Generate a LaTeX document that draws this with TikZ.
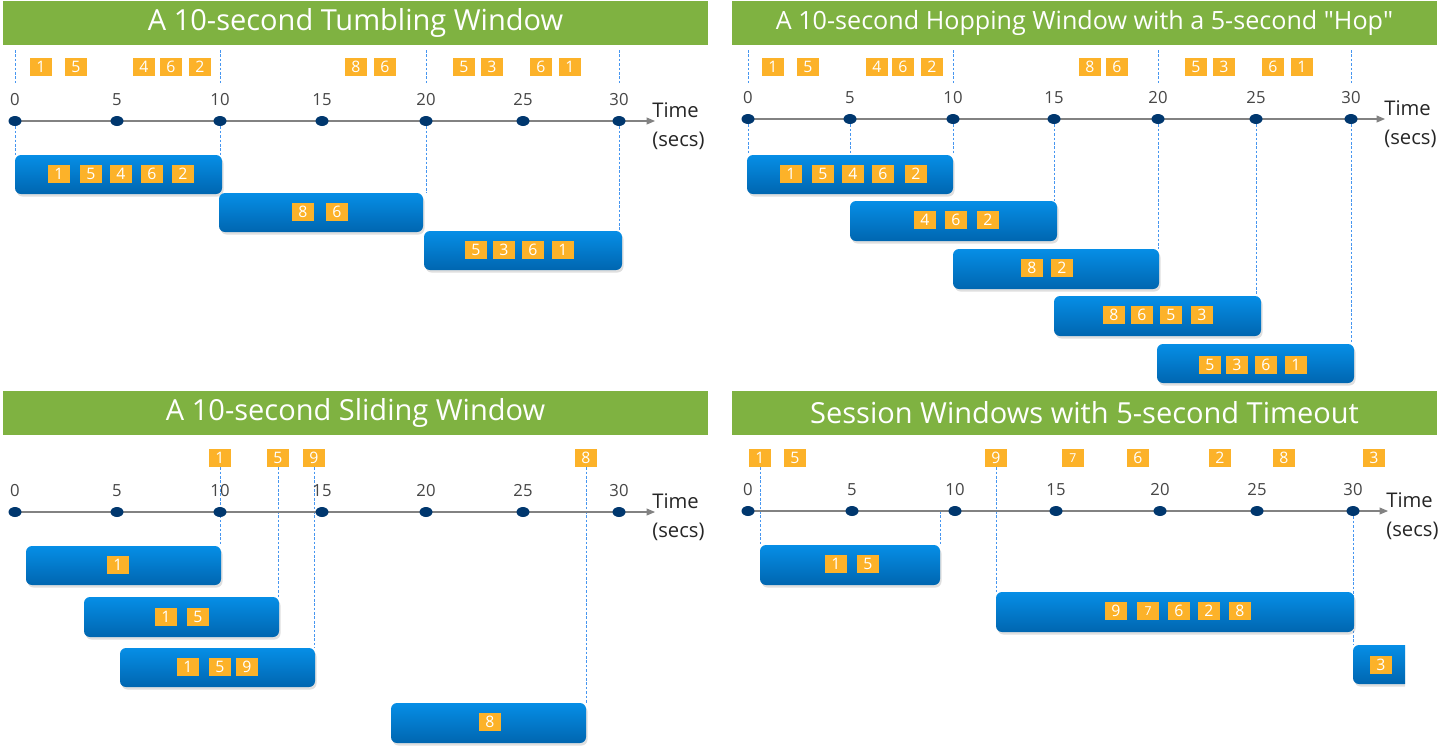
\documentclass[tikz,border=0pt]{standalone}
\usepackage{fontspec}
\setmainfont{Open Sans}
\usetikzlibrary{arrows.meta,shapes.geometric,fit,shadows,backgrounds}

\definecolor{bannergreen}{RGB}{127,178,65}
\definecolor{evorange}{RGB}{252,178,41}
\definecolor{wintop}{RGB}{6,142,230}
\definecolor{winbot}{RGB}{0,102,176}
\definecolor{dotnavy}{RGB}{0,55,110}
\definecolor{guideblue}{RGB}{70,150,240}
\definecolor{linegray}{RGB}{130,130,130}
\definecolor{labelgray}{RGB}{70,70,70}

\begin{document}
\begin{tikzpicture}[x=0.2mm,y=-0.2mm,
  banner/.style={fill=bannergreen,inner sep=0pt,text=white,minimum width=141mm,minimum height=8.8mm,
    font=\fontsize{16.5}{19}\selectfont},
  win/.style={rounded corners=1.2mm,top color=wintop,bottom color=winbot,inner sep=0pt,
    drop shadow={opacity=0.25,shadow xshift=0.3mm,shadow yshift=-0.5mm}},
  ev/.style={fill=evorange,text=white,inner sep=0pt,minimum width=4.5mm,minimum height=3.5mm,font=\fontsize{9}{10}\selectfont},
  evsmall/.style={ev,font=\fontsize{7}{8}\selectfont},
  tickdot/.style={ellipse,fill=dotnavy,inner sep=0pt,minimum width=2.6mm,minimum height=2mm},
  ticklbl/.style={text=labelgray,font=\fontsize{9.5}{11}\selectfont},
  timeline/.style={draw=linegray,line width=0.6pt,-{Triangle[length=1.7mm,width=1.4mm]}},
  guide/.style={draw=guideblue,dash pattern=on 1.5pt off 1pt,line width=0.4pt},
  timelbl/.style={anchor=west,align=left,text=black!85,inner sep=0pt,font=\fontsize{11.5}{16.5}\selectfont}]

\useasboundingbox (0,0) rectangle (1441,748);

% tumbling window
\node[banner] (tlhead) at (355.5,23) {A 10-second Tumbling Window};
\coordinate (tlstart) at (15,121);
\coordinate (tlend) at (655,121);
\draw[timeline] (tlstart) -- (tlend);
\foreach \t/\x in {0/15,5/117,10/220,15/322,20/426,25/523,30/619}{
  \node[tickdot] (tl\t) at (\x,121) {};
  \node[ticklbl] (tll\t) at (\x,100) {\t};
}
\node[timelbl] (tltime) at (652,126) {Time\\(secs)};
\foreach \x/\n [count=\i] in {41/1,76/5,144/4,171/6,200/2,356/8,385/6,464/5,492/3,541/6,570/1}
  \node[ev] (tle\i) at (\x,67) {\n};
\node[win,fit={(15,155) (222,194)}] (tlw1) {};
\node[win,fit={(219,193) (423,232)}] (tlw2) {};
\node[win,fit={(424,231) (622,270)}] (tlw3) {};
\foreach \x/\n [count=\i] in {59/1,91/5,121/4,152/6,183/2} \node[ev] (tla\i) at (\x,174) {\n};
\foreach \x/\n [count=\i] in {303/8,337/6} \node[ev] (tlb\i) at (\x,212) {\n};
\foreach \x/\n [count=\i] in {476/5,504/3,533/6,563/1} \node[ev] (tlc\i) at (\x,250) {\n};
\begin{scope}[on background layer]
  \foreach \t in {0,10,20,30} \draw[guide] (tl\t |- 0,50) -- (tl\t |- 0,85);
  \draw[guide] (tl0) -- (tl0 |- tlw1.north);
  \draw[guide] (tl10) -- (tl10 |- tlw1.north);
  \draw[guide] (tl20) -- (tl20 |- tlw2.north);
  \draw[guide] (tl30) -- (tl30 |- tlw3.north);
\end{scope}

% hopping window
\node[banner,font=\fontsize{14.3}{17}\selectfont] (trhead) at (1084.5,23) {A 10-second Hopping Window with a 5-second \textquotedbl Hop\textquotedbl};
\coordinate (trstart) at (748,119);
\coordinate (trend) at (1385,119);
\draw[timeline] (trstart) -- (trend);
\foreach \t/\x in {0/748,5/850,10/953,15/1054,20/1158,25/1256,30/1351}{
  \node[tickdot] (tr\t) at (\x,119) {};
  \node[ticklbl] (trl\t) at (\x,98) {\t};
}
\node[timelbl] (trtime) at (1384,124) {Time\\(secs)};
\foreach \x/\n [count=\i] in {773/1,808/5,877/4,903/6,932/2,1090/8,1117/6,1196/5,1224/3,1273/6,1302/1}
  \node[ev] (tre\i) at (\x,67) {\n};
\node[win,fit={(747,155) (953,194)}] (trw1) {};
\node[win,fit={(850,201) (1057,241)}] (trw2) {};
\node[win,fit={(953,249) (1159,289)}] (trw3) {};
\node[win,fit={(1054,296) (1261,336)}] (trw4) {};
\node[win,fit={(1157,344) (1354,383)}] (trw5) {};
\foreach \x/\n [count=\i] in {791/1,823/5,853/4,883/6,916/2} \node[ev] (tra\i) at (\x,174) {\n};
\foreach \x/\n [count=\i] in {925/4,956/6,988/2} \node[ev] (trb\i) at (\x,220) {\n};
\foreach \x/\n [count=\i] in {1032/8,1062/2} \node[ev] (trc\i) at (\x,268) {\n};
\foreach \x/\n [count=\i] in {1114/8,1142/6,1171/5,1202/3} \node[ev] (trd\i) at (\x,315) {\n};
\foreach \x/\n [count=\i] in {1210/5,1237/3,1266/6,1296/1} \node[ev] (trf\i) at (\x,365) {\n};
\begin{scope}[on background layer]
  \foreach \t in {0,10,20,30} \draw[guide] (tr\t |- 0,50) -- (tr\t |- 0,85);
  \foreach \t in {0,5,10} \draw[guide] (tr\t) -- (tr\t |- trw1.north);
  \draw[guide] (tr15) -- (tr15 |- trw2.north);
  \draw[guide] (tr20) -- (tr20 |- trw3.north);
  \draw[guide] (tr25) -- (tr25 |- trw4.north);
  \draw[guide] (tr30) -- (tr30 |- trw5.north);
\end{scope}

% sliding window
\node[banner] (blhead) at (355.5,413) {A 10-second Sliding Window};
\coordinate (blstart) at (15,512);
\coordinate (blend) at (655,512);
\draw[timeline] (blstart) -- (blend);
\foreach \t/\x in {0/15,5/117,10/220,15/322,20/426,25/523,30/619}{
  \node[tickdot] (bl\t) at (\x,512) {};
  \node[ticklbl] (bll\t) at (\x,491) {\t};
}
\node[timelbl] (bltime) at (652,517) {Time\\(secs)};
\foreach \x/\n [count=\i] in {220/1,278/5,314/9,586/8}
  \node[ev] (ble\i) at (\x,458) {\n};
\node[win,fit={(26,546) (221,585)}] (blw1) {};
\node[win,fit={(84,597) (279,637)}] (blw2) {};
\node[win,fit={(120,648) (315,687)}] (blw3) {};
\node[win,fit={(391,703) (586,743)}] (blw4) {};
\node[ev] (bla1) at (118,565) {1};
\foreach \x/\n [count=\i] in {166/1,198/5} \node[ev] (blb\i) at (\x,617) {\n};
\foreach \x/\n [count=\i] in {188/1,220/5,247/9} \node[ev] (blc\i) at (\x,667) {\n};
\node[ev] (bld1) at (490,722) {8};
\begin{scope}[on background layer]
  \foreach \i in {1,...,4} \draw[guide] (ble\i) -- (ble\i |- blw\i.north);
\end{scope}

% session windows
\node[banner] (brhead) at (1084.5,413) {Session Windows with 5-second Timeout};
\coordinate (brstart) at (748,511);
\coordinate (brend) at (1388,511);
\draw[timeline] (brstart) -- (brend);
\foreach \t/\x in {0/748,5/852,10/955,15/1056,20/1160,25/1257,30/1353}{
  \node[tickdot] (br\t) at (\x,511) {};
  \node[ticklbl] (brl\t) at (\x,490) {\t};
}
\node[timelbl] (brtime) at (1386,516) {Time\\(secs)};
\foreach \x/\n [count=\i] in {760/1,795/5,996/9,1138/6,1220/2,1284/8,1374/3}
  \node[ev] (bre\i) at (\x,458) {\n};
\node[evsmall] (bre8) at (1073,458) {7};
\node[win,fit={(760,545) (940,585)}] (brw1) {};
\node[win,fit={(996,592) (1354,632)}] (brw2) {};
\begin{scope}
  \clip (1340,630) rectangle (1405,700);
  \node[win,fit={(1353,645) (1425,684)}] (brw3) {};
\end{scope}
\foreach \x/\n [count=\i] in {836/1,868/5} \node[ev] (bra\i) at (\x,564) {\n};
\node[ev] (brb1) at (1116,611) {9};
\node[evsmall] (brb2) at (1148,611) {7};
\foreach \x/\n [count=\i] in {1179/6,1209/2,1240/8} \node[ev] (brb\the\numexpr\i+2\relax) at (\x,611) {\n};
\node[ev] (brc1) at (1381,665) {3};
\begin{scope}[on background layer]
  \draw[guide] (bre1) -- (bre1 |- brw1.north);
  \draw[guide] (brw1.north east |- br0) -- (brw1.north east);
  \draw[guide] (bre3) -- (bre3 |- brw2.north);
  \draw[guide] (br30) -- (br30 |- brw3.north);
\end{scope}
\end{tikzpicture}
\end{document}
